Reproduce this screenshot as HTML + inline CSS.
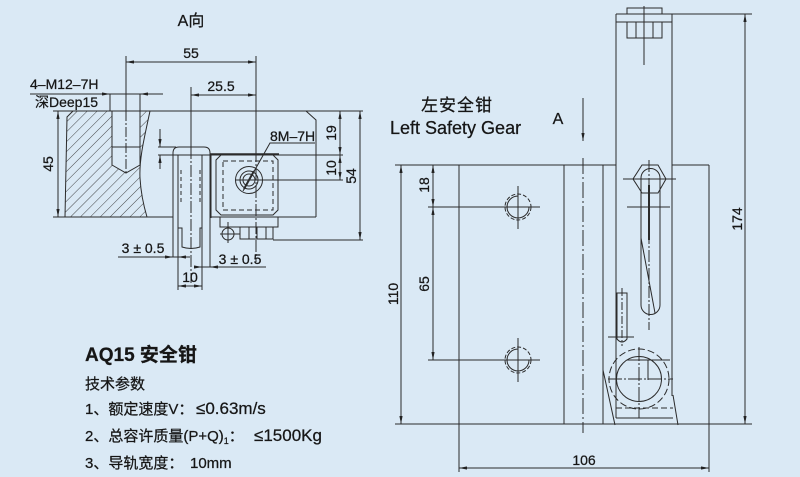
<!DOCTYPE html>
<html><head><meta charset="utf-8">
<style>
html,body{margin:0;padding:0;background:#dae9f5;}
svg{display:block;}
text{font-family:"Liberation Sans","Noto Sans CJK SC",sans-serif;fill:#161616;stroke:#161616;stroke-width:0.25;}
</style></head><body>
<svg width="800" height="477" viewBox="0 0 800 477" xmlns="http://www.w3.org/2000/svg">
<defs>
<marker id="a" viewBox="0 0 10 4" refX="10" refY="2" markerWidth="8" markerHeight="3.2" markerUnits="userSpaceOnUse" orient="auto-start-reverse"><path d="M0,0 L10,2 L0,4 z" fill="#222"/></marker>
<pattern id="h" patternUnits="userSpaceOnUse" width="7" height="7" patternTransform="rotate(45)"><line x1="0" y1="0" x2="0" y2="7" stroke="#333" stroke-width="0.9"/></pattern>
</defs>
<rect width="800" height="477" fill="#dae9f5"/>

<!-- ============ LEFT DRAWING ============ -->
<g stroke="#2b2b2b" stroke-width="1" fill="none">
  <line x1="126" y1="62" x2="256" y2="62" marker-start="url(#a)" marker-end="url(#a)"/>
  <line x1="126" y1="56" x2="126" y2="111"/>
  <line x1="126" y1="111" x2="126" y2="174" stroke-dasharray="10,2,2,2"/>
  <line x1="256" y1="56" x2="256" y2="150"/>
  <line x1="256" y1="150" x2="256" y2="262" stroke-dasharray="12,2,2,2"/>
  <line x1="191" y1="95" x2="256" y2="95" marker-start="url(#a)" marker-end="url(#a)"/>
  <line x1="191" y1="87" x2="191" y2="147"/>
  <line x1="191" y1="147" x2="191" y2="283" stroke-dasharray="12,2,2,2"/>
  <line x1="30" y1="94" x2="163" y2="94"/>
  <line x1="100" y1="94" x2="110" y2="94" marker-end="url(#a)"/>
  <line x1="150" y1="94" x2="140" y2="94" marker-end="url(#a)"/>
  <line x1="110" y1="94" x2="110" y2="111"/>
  <line x1="140" y1="94" x2="140" y2="111"/>
  <line x1="53" y1="111" x2="363" y2="111"/>
  <path d="M73,111 L112,111 L112,165 L126,173 L140,165 L140,111 L150,111 C145,135 139,158 140,178 C141,195 144,207 147,217 L65,217 L67,117 Z" fill="url(#h)"/>
  <line x1="112" y1="147" x2="140" y2="147"/>
  <line x1="53" y1="217" x2="173" y2="217"/>
  <line x1="210" y1="217" x2="316" y2="217"/>
  <path d="M306,111 L316,120 L316,217"/>
  <line x1="58" y1="111" x2="58" y2="217" marker-start="url(#a)" marker-end="url(#a)"/>
  <line x1="160" y1="129" x2="160" y2="147" marker-end="url(#a)"/>
  <line x1="160" y1="169" x2="160" y2="155" marker-end="url(#a)"/>
  <line x1="158" y1="147" x2="176" y2="147"/>
  <line x1="158" y1="155" x2="343" y2="155"/>
  <path d="M173,257 L173,153 Q173,147 179,147 L204,147 Q210,147 210,153 L210,267"/>
  <line x1="178" y1="155" x2="178" y2="290"/>
  <line x1="202" y1="155" x2="202" y2="290"/>
  <path d="M178,228 L182,228 L182,247 Q191,250 200,247 L200,228 L202,228"/>
  <line x1="181" y1="170" x2="181" y2="205" stroke-dasharray="4,3"/>
  <line x1="200" y1="170" x2="200" y2="205" stroke-dasharray="4,3"/>
  <line x1="211" y1="155" x2="211" y2="218"/>
  <line x1="210" y1="154" x2="279" y2="154" stroke-width="1.4"/>
  <path d="M221,155 L273,155 L278,160 L278,210 L273,215 L221,215 L216,210 L216,160 Z"/>
  <rect x="223" y="161" width="50" height="49" stroke-dasharray="5,3"/>
  <circle cx="249" cy="180" r="13.5"/>
  <circle cx="249" cy="180" r="9"/>
  <circle cx="249" cy="180" r="6"/>
  <line x1="236" y1="180" x2="343" y2="180"/>
  <path d="M243,191 L270,143 L315,143"/>
  <line x1="244" y1="189" x2="254" y2="171" stroke-width="2"/>
  <rect x="220" y="217" width="58" height="10"/>
  <rect x="240" y="227" width="33" height="12"/>
  <line x1="249" y1="227" x2="249" y2="239"/>
  <line x1="257" y1="227" x2="257" y2="239"/>
  <line x1="266" y1="227" x2="266" y2="239"/>
  <circle cx="228" cy="234" r="6"/>
  <line x1="220" y1="234" x2="240" y2="234"/>
  <line x1="228" y1="222" x2="228" y2="243"/>
  <line x1="273" y1="240" x2="363" y2="240"/>
  <line x1="340" y1="111" x2="340" y2="155" marker-start="url(#a)" marker-end="url(#a)"/>
  <line x1="340" y1="155" x2="340" y2="180" marker-start="url(#a)" marker-end="url(#a)"/>
  <line x1="360" y1="111" x2="360" y2="240" marker-start="url(#a)" marker-end="url(#a)"/>
  <line x1="118" y1="257" x2="190" y2="257"/>
  <line x1="164" y1="257" x2="173" y2="257" marker-end="url(#a)"/>
  <line x1="187" y1="257" x2="178" y2="257" marker-end="url(#a)"/>
  <line x1="195" y1="267" x2="266" y2="267"/>
  <line x1="194" y1="267" x2="202" y2="267" marker-end="url(#a)"/>
  <line x1="218" y1="267" x2="210" y2="267" marker-end="url(#a)"/>
  <line x1="178" y1="286" x2="202" y2="286" marker-start="url(#a)" marker-end="url(#a)"/>
</g>

<text x="191" y="26" font-size="16" text-anchor="middle">A向</text>
<text x="191" y="58" font-size="14" text-anchor="middle">55</text>
<text x="221" y="91" font-size="14" text-anchor="middle">25.5</text>
<text x="30" y="89" font-size="14">4–M12–7H</text>
<text x="35" y="107" font-size="14">深Deep15</text>
<text x="0" y="0" font-size="14" text-anchor="middle" transform="translate(53,164) rotate(-90)">45</text>
<text x="270" y="141" font-size="14">8M–7H</text>
<text x="0" y="0" font-size="14" text-anchor="middle" transform="translate(336,133) rotate(-90)">19</text>
<text x="0" y="0" font-size="14" text-anchor="middle" transform="translate(336,168) rotate(-90)">10</text>
<text x="0" y="0" font-size="14" text-anchor="middle" transform="translate(356,176) rotate(-90)">54</text>
<text x="143" y="253" font-size="14" text-anchor="middle">3 ± 0.5</text>
<text x="240" y="264" font-size="14" text-anchor="middle">3 ± 0.5</text>
<text x="190" y="282" font-size="14" text-anchor="middle">10</text>

<!-- ============ RIGHT DRAWING ============ -->
<g stroke="#2b2b2b" stroke-width="1" fill="none">
  <line x1="583" y1="98" x2="583" y2="141" marker-end="url(#a)"/>
  <line x1="616" y1="14" x2="616" y2="418"/>
  <line x1="672" y1="14" x2="672" y2="396"/>
  <line x1="616" y1="14" x2="752" y2="14"/>
  <rect x="627" y="8" width="35" height="6"/>
  <line x1="616" y1="22" x2="672" y2="22"/>
  <path d="M627,22 L627,38 L636,38 L636,22"/>
  <path d="M653,22 L653,38 L662,38 L662,22"/>
  <line x1="636" y1="38" x2="653" y2="38"/>
  <line x1="644" y1="6" x2="644" y2="65"/>
  <line x1="395" y1="165" x2="616" y2="165"/>
  <line x1="672" y1="165" x2="709" y2="165"/>
  <line x1="459" y1="165" x2="459" y2="472"/>
  <line x1="709" y1="165" x2="709" y2="472"/>
  <line x1="564" y1="165" x2="564" y2="424"/>
  <line x1="603" y1="165" x2="603" y2="424"/>
  <line x1="583" y1="158" x2="583" y2="433" stroke-dasharray="16,3,2,3"/>
  <line x1="395" y1="424" x2="752" y2="424"/>
  <circle cx="518" cy="207" r="13" stroke-dasharray="4,2"/>
  <path d="M529,207 A11,11 0 1 1 518,196"/>
  <line x1="428" y1="207" x2="540" y2="207"/>
  <line x1="518" y1="186" x2="518" y2="229"/>
  <circle cx="518" cy="360" r="13" stroke-dasharray="4,2"/>
  <path d="M529,360 A11,11 0 1 1 518,349"/>
  <line x1="428" y1="360" x2="540" y2="360"/>
  <line x1="518" y1="338" x2="518" y2="382"/>
  <line x1="401" y1="165" x2="401" y2="424" marker-start="url(#a)" marker-end="url(#a)"/>
  <line x1="433" y1="165" x2="433" y2="207" marker-start="url(#a)" marker-end="url(#a)"/>
  <line x1="433" y1="207" x2="433" y2="360" marker-start="url(#a)" marker-end="url(#a)"/>
  <line x1="459" y1="468" x2="709" y2="468" marker-start="url(#a)" marker-end="url(#a)"/>
  <line x1="745" y1="14" x2="745" y2="424" marker-start="url(#a)" marker-end="url(#a)"/>
  <path d="M642,165 L658,165 L666,179 L658,193 L642,193 L633,179 Z"/>
  <line x1="623" y1="179" x2="676" y2="179"/>
  <line x1="627" y1="207" x2="670" y2="207"/>
  <path d="M641,178 A9.5,9.5 0 0 1 660,178 L660,305 A9.5,9.5 0 0 1 641,305 Z"/>
  <line x1="649" y1="160" x2="649" y2="330" stroke-dasharray="12,2,2,2"/>
  <line x1="649" y1="185" x2="649" y2="240" stroke-width="2"/>
  <line x1="641" y1="238" x2="655" y2="313"/>
  <path d="M617,293 L627,293 L627,339 Q622,345 617,339 Z"/>
  <line x1="608" y1="337" x2="634" y2="337"/>
  <line x1="622" y1="288" x2="622" y2="346" stroke-dasharray="8,2,2,2"/>
  <circle cx="639" cy="379" r="30" stroke-dasharray="7,3"/>
  <circle cx="639" cy="379" r="22.5"/>
  <line x1="627" y1="360" x2="670" y2="360"/>
  <line x1="608" y1="379" x2="673" y2="379" stroke-dasharray="14,2,2,2"/>
  <line x1="639" y1="347" x2="639" y2="418" stroke-dasharray="14,2,2,2"/>
  <line x1="648" y1="360" x2="648" y2="380"/>
  <line x1="603" y1="370" x2="615" y2="425"/>
  <line x1="673" y1="395" x2="678" y2="425"/>
  <line x1="616" y1="408" x2="673" y2="408" stroke-dasharray="6,3"/>
  <line x1="616" y1="418" x2="673" y2="418"/>
</g>

<text x="421" y="111" font-size="17" letter-spacing="1">左安全钳</text>
<text x="390" y="134" font-size="18">Left Safety Gear</text>
<text x="558" y="124" font-size="16" text-anchor="middle">A</text>
<text x="0" y="0" font-size="14" text-anchor="middle" transform="translate(429,185) rotate(-90)">18</text>
<text x="0" y="0" font-size="14" text-anchor="middle" transform="translate(429,284) rotate(-90)">65</text>
<text x="0" y="0" font-size="14" text-anchor="middle" transform="translate(398,294) rotate(-90)">110</text>
<text x="0" y="0" font-size="14" text-anchor="middle" transform="translate(742,219) rotate(-90)">174</text>
<text x="584" y="465" font-size="14" text-anchor="middle">106</text>

<text x="85" y="361" font-size="19" font-weight="bold">AQ15 安全钳</text>
<text x="85" y="389" font-size="15">技术参数</text>
<text x="85" y="414" font-size="15">1、额定速度V：</text>
<text x="196" y="414" font-size="17">≤0.63m/s</text>
<text x="85" y="441" font-size="15">2、总容许质量(P+Q)<tspan font-size="9" dy="3">1</tspan><tspan dy="-3">：</tspan></text>
<text x="254" y="441" font-size="17">≤1500Kg</text>
<text x="85" y="468" font-size="15">3、导轨宽度：</text>
<text x="190" y="468" font-size="15">10mm</text>
</svg>
</body></html>
